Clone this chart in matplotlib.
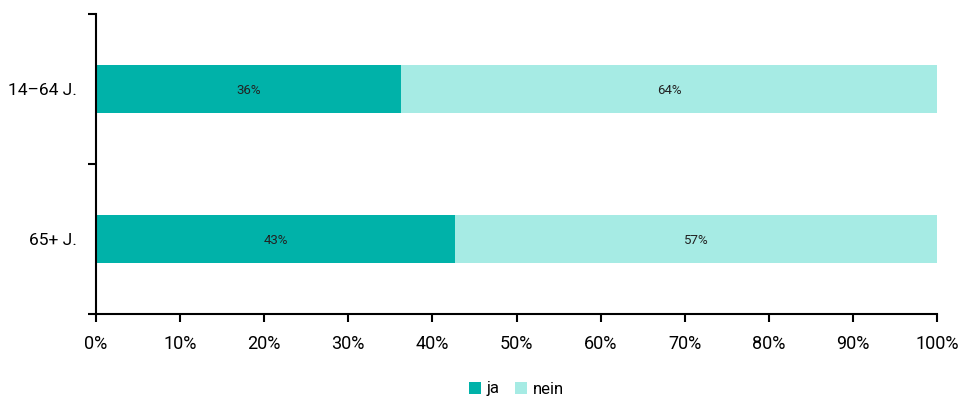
import matplotlib.pyplot as plt
import numpy as np

plt.rcParams['font.family'] = ['Roboto', 'DejaVu Sans']

groups = ["14–64 J.", "65+ J."]
ja = [36.3, 42.7]
nein = [63.7, 57.3]
series_names = ["ja", "nein"]
colors = ["#00b2a9", "#a6ebe4"]

fig = plt.figure(figsize=(9.62, 4.01), dpi=100)
ax = fig.add_axes([96 / 962, 87 / 401, 841 / 962, 300 / 401])

y = np.arange(len(groups))
left = np.zeros(len(groups))
for name, vals, col in zip(series_names, [ja, nein], colors):
    bars = ax.barh(y, vals, left=left, height=0.32, color=col, label=name)
    for b, v in zip(bars, vals):
        ax.text(b.get_x() + b.get_width() / 2, b.get_y() + b.get_height() / 2 + 0.01,
                f"{v:.0f}%", ha="center", va="center", fontsize=9.5, color="#222222")
    left += np.array(vals)

ax.set_xlim(0, 100)
ax.set_ylim(1.5, -0.5)
ax.set_xticks(np.arange(0, 101, 10))
ax.set_xticklabels([f"{t}%" for t in range(0, 101, 10)], fontsize=13)

# category boundaries get the tick marks, labels sit at the centres
ax.set_yticks([-0.5, 0.5, 1.5])
ax.set_yticklabels([])
ax.set_yticks(y, minor=True)
ax.set_yticklabels(groups, minor=True, fontsize=12.5)
ax.tick_params(axis="y", which="minor", length=0, pad=14)
ax.tick_params(axis="y", which="major", length=6, width=1.5)
ax.tick_params(axis="x", length=6, width=1.5, pad=9)

for s in ["top", "right"]:
    ax.spines[s].set_visible(False)
for s in ["left", "bottom"]:
    ax.spines[s].set_linewidth(1.5)

ax.legend(loc="upper center", bbox_to_anchor=(0.5, -0.175), ncol=2, frameon=False,
          fontsize=12, handlelength=0.7, handleheight=0.7, handletextpad=0.35,
          columnspacing=0.9)

fig.savefig("out.png", dpi=100)
